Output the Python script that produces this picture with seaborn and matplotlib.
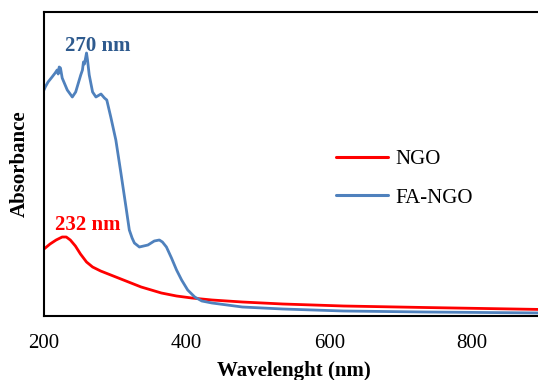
import numpy as np
import pandas as pd
import matplotlib
matplotlib.use("Agg")
import matplotlib.pyplot as plt
import seaborn as sns

# FA-NGO spectrum
fa_wl = [200, 201.8, 205.7, 211.3, 215.6, 218.4, 219.9, 221.3, 223.1, 225.5, 232.6, 239.7,
         244.4, 251.5, 253.9, 255.3, 256.7, 259.6, 261.0, 263.4, 268.1, 272.8, 279.9, 284.7,
         288.0, 293.6, 300.7, 307.8, 314.9, 319.6, 323.5, 326.7, 333.7, 345.7, 354.6, 361.7,
         366.0, 371.6, 378.7, 385.8, 392.9, 401.4, 411.3, 421.3, 435.5, 478.0, 534.8, 619.9,
         733.3, 900]
fa_abs = [2.26, 2.29, 2.34, 2.39, 2.43, 2.46, 2.42, 2.49, 2.48, 2.38, 2.26, 2.19,
          2.24, 2.41, 2.46, 2.54, 2.52, 2.63, 2.56, 2.41, 2.24, 2.19, 2.22, 2.18,
          2.16, 1.99, 1.76, 1.43, 1.09, 0.86, 0.78, 0.73, 0.69, 0.71, 0.75, 0.76,
          0.74, 0.69, 0.58, 0.46, 0.36, 0.26, 0.19, 0.15, 0.13, 0.09, 0.07, 0.05,
          0.04, 0.03]

# NGO spectrum
ngo_wl = [200, 208.5, 217.0, 225.5, 231.2, 236.9, 244.0, 251.1, 259.6, 268.1, 279.4, 293.6,
          307.8, 322.0, 336.2, 350.4, 364.5, 385.8, 407.1, 435.5, 478.0, 534.8, 619.9, 733.3, 900]
ngo_abs = [0.67, 0.72, 0.76, 0.79, 0.79, 0.76, 0.70, 0.62, 0.54, 0.49, 0.45, 0.41,
           0.37, 0.33, 0.29, 0.26, 0.23, 0.20, 0.18, 0.16, 0.14, 0.12, 0.10, 0.085, 0.065]

series_names = ["NGO", "FA-NGO"]
colors = {"NGO": "#FF0000", "FA-NGO": "#4F81BD"}
x_ticks = [200, 400, 600, 800]

df = pd.concat([
    pd.DataFrame({"wl": ngo_wl, "abs": ngo_abs, "sample": "NGO"}),
    pd.DataFrame({"wl": fa_wl, "abs": fa_abs, "sample": "FA-NGO"}),
])

sns.set_style("white")
plt.rcParams["font.family"] = ["Liberation Serif", "DejaVu Serif"]
plt.rcParams["text.color"] = "black"
plt.rcParams["axes.labelcolor"] = "black"
plt.rcParams["xtick.color"] = "black"

fig = plt.figure(figsize=(5.38, 3.8), dpi=100)
ax = fig.add_axes([44/538, 64/380, 1 - 44/538 + 0.01, 304/380])

sns.lineplot(data=df, x="wl", y="abs", hue="sample", hue_order=series_names,
             palette=colors, linewidth=2.0, sort=False, estimator=None, ax=ax)

ax.set_xlim(200, 900)
ax.set_ylim(0, 3.04)
ax.set_xticks(x_ticks)
ax.set_yticks([])
ax.tick_params(axis="x", length=0, pad=13, labelsize=15, colors="black")
for s in ["left", "bottom", "top"]:
    ax.spines[s].set_linewidth(1.5)
    ax.spines[s].set_color("black")
ax.spines["right"].set_visible(False)

ax.set_xlabel("Wavelenght (nm)", fontsize=15, fontweight="bold", labelpad=6, color="black")
ax.set_ylabel("Absorbance", fontsize=15, fontweight="bold", labelpad=10, color="black")

ax.text(276, 2.70, "270 nm", color="#2E5A8E", fontsize=15, fontweight="bold",
        ha="center", va="center")
ax.text(262, 0.91, "232 nm", color="#FF0000", fontsize=15, fontweight="bold",
        ha="center", va="center")

leg = ax.legend(loc="upper left", bbox_to_anchor=(0.585, 0.547), frameon=False,
                fontsize=15, handlelength=2.5, handletextpad=0.35,
                labelspacing=0.9, borderpad=0, borderaxespad=0)
for t in leg.get_texts():
    t.set_color("black")
for l in leg.get_lines():
    l.set_linewidth(2.2)

fig.savefig("out.png", dpi=100)
